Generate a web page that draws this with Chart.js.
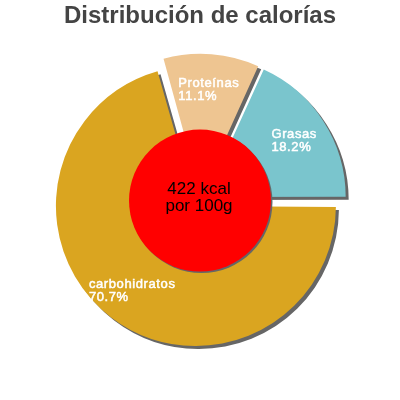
<!DOCTYPE html>
<html><head><meta charset="utf-8">
<script src="https://cdn.jsdelivr.net/npm/chart.js@4.4.0/dist/chart.umd.min.js"></script>
<style>html,body{margin:0;padding:0;background:#fff}canvas{display:block}</style>
</head><body>
<canvas id="c" width="400" height="400"></canvas>
<script>
// ---- data ----
const categories = ['carbohidratos', 'Proteínas', 'Grasas'];
const percentages = [70.7, 11.1, 18.2];
const sliceColors = ['#DAA520', '#EEC591', '#7AC5CD'];
const centerLines = ['422 kcal', 'por 100g'];
const titleText = 'Distribución de calorías';

// ---- style ----
const SLICE_R = 140;
const OFFSET = 27;           // Chart.js divides by 4 -> ~6.75px explode
const LABEL_R = 112;
const CIRCLE_FRAC = 0.507;
const FONT = '"Liberation Sans", Arial, sans-serif';
Chart.defaults.font.family = FONT;

const decor = {
  id: 'decor',
  afterDatasetUpdate(chart, args) {
    const meta = chart.getDatasetMeta(args.index);
    meta.data.forEach(el => {
      const off = ((el.options && el.options.offset) || 0) / 4;
      const fix = 1 - Math.sin(Math.min(Math.PI, el.circumference || 0));
      el.outerRadius = el.outerRadius - off * fix;
    });
  },
  beforeDatasetDraw(chart) {
    const c = chart.ctx;
    c.save();
    c.shadowColor = '#666';
    c.shadowOffsetX = 3;
    c.shadowOffsetY = 3;
    c.shadowBlur = 0;
  },
  afterDatasetDraw(chart) {
    chart.ctx.restore();
  },
  afterDatasetsDraw(chart) {
    const c = chart.ctx;
    const meta = chart.getDatasetMeta(0);
    const el0 = meta.data[0];
    const cx = el0.x, cy = el0.y;
    // center circle
    c.save();
    c.shadowColor = '#666';
    c.shadowOffsetX = 1.5;
    c.shadowOffsetY = 1.5;
    c.shadowBlur = 0;
    c.beginPath();
    c.arc(cx, cy, SLICE_R * CIRCLE_FRAC, 0, Math.PI * 2);
    c.fillStyle = '#ff0000';
    c.fill();
    c.restore();
    // slice labels
    c.save();
    c.font = '13px ' + FONT;
    if ('letterSpacing' in c) c.letterSpacing = '0.6px';
    c.fillStyle = '#ffffff';
    c.strokeStyle = '#ffffff';
    c.lineWidth = 0.5;
    c.textAlign = 'left';
    c.textBaseline = 'alphabetic';
    meta.data.forEach((el, i) => {
      const mid = (el.startAngle + el.endAngle) / 2;
      const px = cx + Math.cos(mid) * LABEL_R;
      const py = cy + Math.sin(mid) * LABEL_R;
      const lines = [categories[i], percentages[i].toFixed(1) + '%'];
      const w = Math.max(...lines.map(t => c.measureText(t).width));
      const x0 = px - w / 2;
      c.fillText(lines[0], x0, py - 1.5);
      c.strokeText(lines[0], x0, py - 1.5);
      c.fillText(lines[1], x0, py + 10.8);
      c.strokeText(lines[1], x0, py + 10.8);
    });
    c.restore();
    // center text
    c.save();
    c.font = '17px ' + FONT;
    c.fillStyle = '#000';
    c.textAlign = 'center';
    c.textBaseline = 'alphabetic';
    c.fillText(centerLines[0], cx - 1, cy - 6.7);
    c.fillText(centerLines[1], cx - 1, cy + 10.7);
    c.restore();
  }
};

new Chart(document.getElementById('c'), {
  type: 'pie',
  data: {
    labels: categories,
    datasets: [{
      data: percentages,
      backgroundColor: sliceColors,
      borderWidth: 0,
      offset: OFFSET,
      radius: SLICE_R
    }]
  },
  options: {
    responsive: false,
    animation: false,
    rotation: 90,
    layout: { padding: { top: 0, bottom: 29.6, left: 0, right: 0 } },
    plugins: {
      legend: { display: false },
      tooltip: { enabled: false },
      title: {
        display: true,
        text: titleText,
        color: '#444',
        font: { size: 24, weight: 'bold', family: FONT },
        padding: { top: 2, bottom: 0 }
      }
    }
  },
  plugins: [decor]
});
</script>
</body></html>
